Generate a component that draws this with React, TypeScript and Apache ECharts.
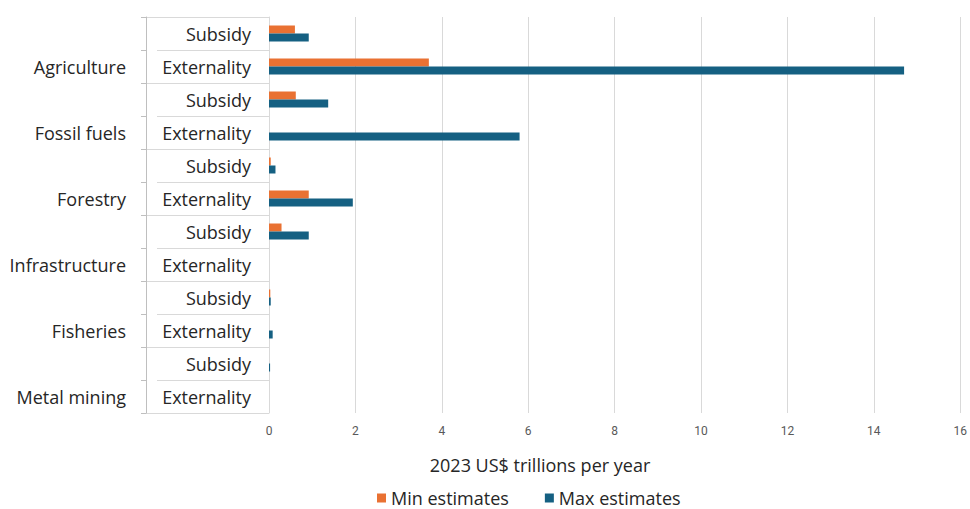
import React, { useEffect, useRef } from "react";
import * as echarts from "echarts";

const groups = ["Agriculture", "Fossil fuels", "Forestry", "Infrastructure", "Fisheries", "Metal mining"];
const types = ["Subsidy", "Externality"];
const rowLabels = groups.flatMap(() => types);
const groupRowLabels = groups.flatMap((g) => ["", g]);
const minEstimates = [0.6, 3.7, 0.62, null, 0.04, 0.92, 0.29, null, 0.03, null, null, null];
const maxEstimates = [0.92, 14.7, 1.37, 5.8, 0.15, 1.94, 0.92, null, 0.04, 0.085, 0.025, null];
const xTicks = { min: 0, max: 16, interval: 2 };
const axisTitle = "2023 US$ trillions per year";
const seriesNames = ["Min estimates", "Max estimates"];

const FONT = "'Open Sans', 'Noto Sans', sans-serif";
const GRID_LINE = "#d9d9d9";

export default function App() {
  const ref = useRef<HTMLDivElement>(null);
  useEffect(() => {
    document.body.style.margin = "0";
    const chart = echarts.init(ref.current!, null, { renderer: "svg" });
    const top = 17;
    const bottom = 96;
    chart.setOption({
      animation: false,
      backgroundColor: "#ffffff",
      textStyle: { fontFamily: FONT },
      grid: [
        { left: 269, right: 4, top, bottom },
        { left: 146, width: 123, top, bottom },
        { left: 157, width: 112, top, bottom },
      ],
      xAxis: [
        {
          gridIndex: 0,
          type: "value",
          min: xTicks.min,
          max: xTicks.max,
          interval: xTicks.interval,
          axisLine: { show: false },
          axisTick: { show: false },
          axisLabel: { margin: 12, fontSize: 12, color: "#595959", fontFamily: "Roboto, sans-serif" },
          splitLine: { show: true, lineStyle: { color: GRID_LINE, width: 1 } },
        },
        { gridIndex: 1, type: "value", show: false },
        { gridIndex: 2, type: "value", show: false },
      ],
      yAxis: [
        {
          gridIndex: 0,
          type: "category",
          data: rowLabels,
          inverse: true,
          axisLine: { show: true, lineStyle: { color: GRID_LINE } },
          axisTick: { show: false },
          axisLabel: { margin: 18, fontSize: 18, color: "#262626", fontFamily: FONT },
          splitLine: { show: false },
        },
        {
          gridIndex: 1,
          type: "category",
          data: groupRowLabels,
          inverse: true,
          position: "left",
          offset: 0,
          axisLine: { show: true, lineStyle: { color: "#bfbfbf" } },
          axisTick: { show: true, length: 5, lineStyle: { color: "#bfbfbf" } },
          axisLabel: { show: true, interval: 0, margin: 20, fontSize: 18, color: "#262626", fontFamily: FONT },
          splitLine: { show: false },
        },
        {
          gridIndex: 1,
          type: "category",
          data: groups,
          inverse: true,
          position: "left",
          offset: 0,
          axisLine: { show: false },
          axisTick: { show: false },
          axisLabel: { show: false },
          splitLine: { show: true, lineStyle: { color: GRID_LINE } },
        },
        {
          gridIndex: 2,
          type: "category",
          data: rowLabels,
          inverse: true,
          axisLine: { show: false },
          axisTick: { show: false },
          axisLabel: { show: false },
          splitLine: { show: true, lineStyle: { color: GRID_LINE } },
        },
      ],
      legend: {
        data: seriesNames,
        left: 377,
        top: 489,
        padding: 0,
        icon: "rect",
        itemWidth: 9,
        itemHeight: 9,
        itemGap: 36,
        textStyle: { fontSize: 18, lineHeight: 18, color: "#262626", fontFamily: FONT },
      },
      graphic: [
        {
          type: "text",
          x: 540,
          y: 465,
          style: {
            text: axisTitle,
            fontSize: 18,
            fill: "#262626",
            fontFamily: FONT,
            textAlign: "center",
            textVerticalAlign: "middle",
          },
        },
      ],
      series: [
        {
          name: seriesNames[0],
          type: "bar",
          xAxisIndex: 0,
          yAxisIndex: 0,
          data: minEstimates,
          barWidth: 8,
          barGap: "0%",
          itemStyle: { color: "#E97132" },
        },
        {
          name: seriesNames[1],
          type: "bar",
          xAxisIndex: 0,
          yAxisIndex: 0,
          data: maxEstimates,
          barWidth: 8,
          barGap: "0%",
          itemStyle: { color: "#156082" },
        },
      ],
    });
    return () => chart.dispose();
  }, []);
  return <div ref={ref} style={{ width: 970, height: 509 }} />;
}
